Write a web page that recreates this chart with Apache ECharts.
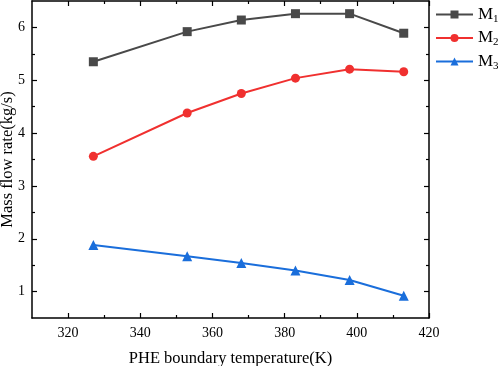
<!DOCTYPE html>
<html>
<head>
<meta charset="utf-8">
<script src="https://cdn.jsdelivr.net/npm/echarts@6/dist/echarts.min.js"></script>
<style>html,body{margin:0;padding:0;background:#fff}#c{width:498px;height:366px}</style>
</head>
<body>
<div id="c"></div>
<script>
const temps = [327, 353, 368, 383, 398, 413];
const m1 = [5.35, 5.92, 6.14, 6.26, 6.26, 5.89];
const m2 = [3.56, 4.38, 4.75, 5.04, 5.21, 5.16];
const m3 = [1.88, 1.67, 1.54, 1.40, 1.22, 0.92];
const seriesNames = ['M1', 'M2', 'M3'];
const xTicks = [320, 340, 360, 380, 400, 420];
const xMinorTicks = [330, 350, 370, 390, 410];
const yTicks = [1, 2, 3, 4, 5, 6];
const yMinorTicks = [1.5, 2.5, 3.5, 4.5, 5.5];
const xTitle = 'PHE boundary temperature(K)';
const yTitle = 'Mass flow rate(kg/s)';

const font = 'Liberation Serif, Times New Roman, serif';
const pair = (arr) => temps.map((t, i) => [t, arr[i]]);
const chart = echarts.init(document.getElementById('c'));
const axisLine = {lineStyle: {color: '#000', width: 1.5}};
const tickStyle = {color: '#000', width: 1.2};
const XMIN = 310, XMAX = 420, YMIN = 0.5, YMAX = 6.5;

function xAx(pos, major, showLine, showLabel) {
  const o = {
    type: 'value', min: XMIN, max: XMAX, position: pos,
    axisLine: showLine ? axisLine : {show: false},
    axisTick: {inside: true, length: major ? 5 : 3, lineStyle: tickStyle,
      customValues: major ? xTicks : xMinorTicks},
    axisLabel: showLabel ? {fontFamily: font, fontSize: 14, color: '#000', margin: 8,
      customValues: xTicks} : {show: false},
    splitLine: {show: false}
  };
  return o;
}
function yAx(pos, major, showLine, showLabel) {
  return {
    type: 'value', min: YMIN, max: YMAX, position: pos,
    axisLine: showLine ? axisLine : {show: false},
    axisTick: {inside: true, length: major ? 5 : 3, lineStyle: tickStyle,
      customValues: major ? yTicks : yMinorTicks},
    axisLabel: showLabel ? {fontFamily: font, fontSize: 14, color: '#000', margin: 7,
      customValues: yTicks} : {show: false},
    splitLine: {show: false}
  };
}
const xb = xAx('bottom', true, true, true);
xb.name = xTitle; xb.nameLocation = 'middle'; xb.nameGap = 32; xb.nameMoveOverlap = false;
xb.nameTextStyle = {fontFamily: font, fontSize: 16.5, color: '#000'};
const yl = yAx('left', true, true, true);
yl.name = yTitle; yl.nameLocation = 'middle'; yl.nameGap = 16; yl.nameMoveOverlap = false;
yl.nameTextStyle = {fontFamily: font, fontSize: 16.5, color: '#000'};

chart.setOption({
  animation: false,
  grid: {left: 32, right: 69, top: 1, bottom: 48, containLabel: false, outerBoundsMode: 'none'},
  legend: {
    orient: 'vertical', left: 430, top: 1, itemGap: 5,
    itemWidth: 37, itemHeight: 10,
    data: seriesNames,
    formatter: n => '{m|M}{s|' + n.slice(1) + '}',
    textStyle: {
      fontFamily: font, color: '#000',
      rich: {
        m: {fontSize: 17, fontFamily: font, color: '#000'},
        s: {fontSize: 11, fontFamily: font, color: '#000', padding: [9, 0, 0, 0]}
      }
    }
  },
  xAxis: [xb, xAx('top', true, true, false), xAx('bottom', false, false, false), xAx('top', false, false, false)],
  yAxis: [yl, yAx('right', true, true, false), yAx('left', false, false, false), yAx('right', false, false, false)],
  series: [
    {name: 'M1', type: 'line', data: pair(m1), symbol: 'rect', symbolSize: 9,
      itemStyle: {color: '#494949'}, lineStyle: {color: '#494949', width: 2}},
    {name: 'M2', type: 'line', data: pair(m2), symbol: 'circle', symbolSize: 9,
      itemStyle: {color: '#f0302f'}, lineStyle: {color: '#f0302f', width: 2}},
    {name: 'M3', type: 'line', data: pair(m3), symbol: 'triangle', symbolSize: 10,
      itemStyle: {color: '#1a6edb'}, lineStyle: {color: '#1a6edb', width: 2}}
  ]
});
</script>
</body>
</html>
